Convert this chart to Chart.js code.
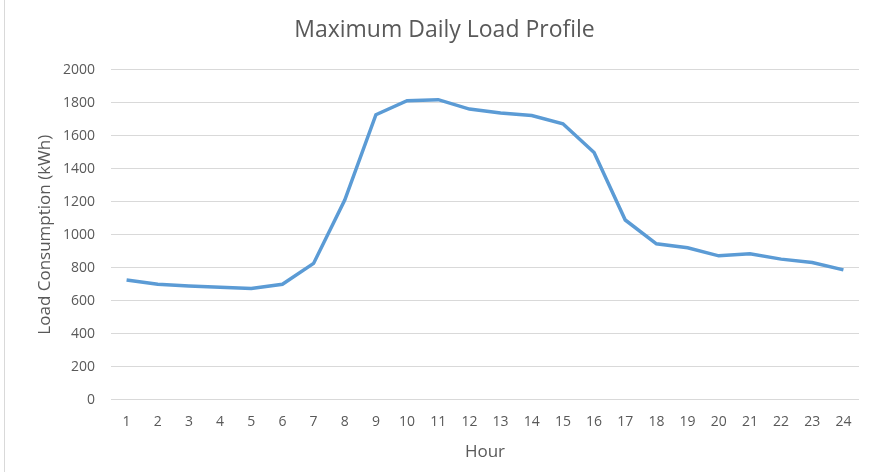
<!DOCTYPE html>
<html>
<head>
<meta charset="utf-8">
<script src="https://cdn.jsdelivr.net/npm/chart.js"></script>
<style>
  html, body { margin: 0; padding: 0; background: #fff; }
  #wrap { position: relative; width: 873px; height: 472px; }
  #wrap::before { content: ''; position: absolute; left: 4px; top: 0; bottom: 0; width: 1px; background: #d9d9d9; }
</style>
</head>
<body>
<div id="wrap"><canvas id="loadChart" width="873" height="472"></canvas></div>
<script>
// Hourly maximum load values (kWh)
const hours = ['1','2','3','4','5','6','7','8','9','10','11','12','13','14','15','16','17','18','19','20','21','22','23','24'];
const loadKwh = [726, 700, 690, 682, 674, 700, 826, 1210, 1727, 1812, 1818, 1761, 1737, 1722, 1672, 1498, 1089, 945, 921, 872, 884, 852, 832, 787];
const yTicks = [0, 200, 400, 600, 800, 1000, 1200, 1400, 1600, 1800, 2000];

const textColor = '#595959';
const gridColor = '#d9d9d9';
const fontFamily = '"Open Sans", "Liberation Sans", sans-serif';

Chart.defaults.font.family = fontFamily;
Chart.defaults.color = textColor;

new Chart(document.getElementById('loadChart'), {
    type: 'line',
    data: {
        labels: hours,
        datasets: [{
            label: 'Load',
            data: loadKwh,
            borderColor: '#5b9bd5',
            backgroundColor: '#5b9bd5',
            borderWidth: 3.5,
            pointRadius: 0,
            tension: 0,
            fill: false
        }]
    },
    options: {
        responsive: false,
        animation: false,
        layout: { padding: { left: 30, right: 14, top: 12, bottom: 10 } },
        plugins: {
            legend: { display: false },
            tooltip: { enabled: false },
            title: {
                display: true,
                text: 'Maximum Daily Load Profile',
                color: textColor,
                font: { size: 23, weight: 'normal' },
                padding: { top: 5, bottom: 25 }
            }
        },
        scales: {
            x: {
                offset: true,
                grid: { display: false },
                border: { display: false },
                ticks: { color: textColor, font: { size: 14 }, padding: 6, maxRotation: 0, autoSkip: false },
                title: {
                    display: true,
                    text: 'Hour',
                    color: textColor,
                    font: { size: 17 },
                    padding: { top: 5, bottom: 0 }
                }
            },
            y: {
                min: 0,
                max: 2000,
                afterBuildTicks: (scale) => { scale.ticks = yTicks.map(v => ({ value: v })); },
                afterFit: (scale) => { scale.width = 81; },
                grid: { color: gridColor, lineWidth: 1, drawTicks: false },
                border: { display: false },
                ticks: { color: textColor, font: { size: 14 }, padding: 16, callback: (v) => String(v) },
                title: {
                    display: true,
                    text: 'Load Consumption (kWh)',
                    color: textColor,
                    font: { size: 17 },
                    padding: { top: 4.5, bottom: 6 }
                }
            }
        }
    }
});
</script>
</body>
</html>
